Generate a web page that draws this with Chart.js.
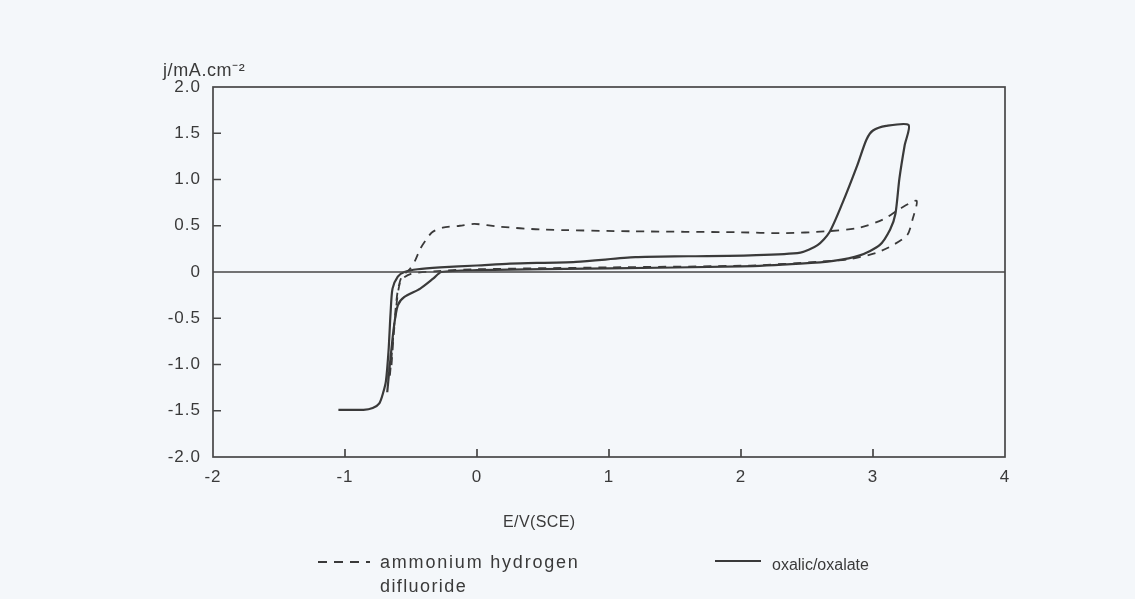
<!DOCTYPE html>
<html>
<head>
<meta charset="utf-8">
<script src="https://cdn.jsdelivr.net/npm/chart.js@4.4.0/dist/chart.umd.min.js"></script>
<style>
  html, body { margin: 0; padding: 0; background: #f4f7fa; }
  #wrap { position: relative; width: 1135px; height: 599px; font-family: "Liberation Sans", Arial, sans-serif; color: #3a3a3a; }
  #cv { position: absolute; left: 0; top: 0; }
  .txt { position: absolute; font-size: 17px; line-height: 22px; white-space: nowrap; }
  .sample { position: absolute; }
</style>
</head>
<body>
<div id="wrap">
  <canvas id="cv" width="1135" height="599"></canvas>
  <div class="txt" style="left:163px; top:59px; font-size:18px; letter-spacing:0.6px;">j/mA.cm⁻²</div>
  <div class="txt" style="left:503px; top:511px; font-size:16px; letter-spacing:0.4px;">E/V(SCE)</div>
  <svg class="sample" style="left:316px; top:558px;" width="56" height="8"><line x1="2" y1="4" x2="54" y2="4" stroke="#3a3a3a" stroke-width="2" stroke-dasharray="9,7"/></svg>
  <div class="txt" style="left:380px; top:551px; font-size:18px; letter-spacing:1.8px;">ammonium hydrogen</div>
  <div class="txt" style="left:380px; top:575px; font-size:18px; letter-spacing:1.4px;">difluoride</div>
  <svg class="sample" style="left:713px; top:557px;" width="50" height="8"><line x1="2" y1="4" x2="48" y2="4" stroke="#3a3a3a" stroke-width="2.2"/></svg>
  <div class="txt" style="left:772px; top:554px; font-size:16px;">oxalic/oxalate</div>
</div>
<script>
// cyclic voltammograms, potential E (V vs SCE) against current density j (mA/cm2)
const oxalateE = [-1.05, -0.86, -0.79, -0.74, -0.71, -0.69, -0.67, -0.655, -0.64, -0.60, -0.55, -0.45, -0.28, 0.0, 0.25, 0.75, 1.2, 1.6, 2.07, 2.45, 2.58, 2.67, 2.77, 2.88, 2.95, 3.0, 3.1, 3.27,
                  3.24, 3.2, 3.17, 3.13, 3.05, 2.9, 2.7, 2.45, 2.0, 1.0, 0.0, -0.27, -0.33, -0.43, -0.55, -0.6, -0.63, -0.66, -0.68];
const oxalateJ = [-1.49, -1.49, -1.47, -1.42, -1.30, -1.18, -0.85, -0.45, -0.18, -0.05, 0.0, 0.03, 0.05, 0.07, 0.09, 0.11, 0.16, 0.17, 0.18, 0.21, 0.29, 0.43, 0.75, 1.15, 1.43, 1.53, 1.58, 1.59,
                  1.37, 1.01, 0.63, 0.46, 0.29, 0.18, 0.12, 0.09, 0.06, 0.04, 0.02, 0.0, -0.07, -0.18, -0.27, -0.36, -0.6, -1.0, -1.3];

const fluorideE = [-0.66, -0.64, -0.62, -0.60, -0.57, -0.51, -0.47, -0.43, -0.39, -0.34, -0.26, -0.13, -0.02, 0.17, 0.48, 1.18, 1.97, 2.32, 2.65, 2.9, 3.08, 3.2, 3.33,
                   3.30, 3.26, 3.15, 3.03, 2.83, 2.58, 2.07, 1.0, 0.0, -0.3, -0.5, -0.58, -0.62, -0.65];
const fluorideJ = [-1.12, -0.8, -0.45, -0.2, -0.05, 0.03, 0.12, 0.25, 0.34, 0.43, 0.48, 0.50, 0.52, 0.49, 0.46, 0.44, 0.43, 0.42, 0.44, 0.48, 0.57, 0.68, 0.77,
                   0.57, 0.40, 0.29, 0.21, 0.14, 0.11, 0.07, 0.05, 0.03, 0.01, -0.02, -0.1, -0.5, -1.05];

const xTicks = [-2, -1, 0, 1, 2, 3, 4];
const yTicks = [-2, -1.5, -1, -0.5, 0, 0.5, 1, 1.5, 2];

const ink = '#3a3a3a';
const toPoints = (xs, ys) => xs.map((x, i) => ({ x: x, y: ys[i] }));

// frame, zero line and inward tick marks
const framePlugin = {
  id: 'frame',
  beforeDraw(chart) {
    chart.ctx.letterSpacing = '1px';
  },
  afterDatasetsDraw(chart) {
    const { ctx, chartArea: a, scales: { x, y } } = chart;
    ctx.save();
    ctx.strokeStyle = '#474747';
    ctx.lineWidth = 1.7;
    ctx.strokeRect(a.left, a.top, a.right - a.left, a.bottom - a.top);
    const y0 = y.getPixelForValue(0);
    ctx.beginPath();
    ctx.moveTo(a.left, y0);
    ctx.lineTo(a.right, y0);
    yTicks.forEach(v => {
      if (v === 0 || v === 2 || v === -2) return;
      const py = y.getPixelForValue(v);
      ctx.moveTo(a.left, py);
      ctx.lineTo(a.left + 8, py);
    });
    xTicks.forEach(v => {
      if (v === -2 || v === 4) return;
      const px = x.getPixelForValue(v);
      ctx.moveTo(px, a.bottom);
      ctx.lineTo(px, a.bottom - 8);
    });
    ctx.stroke();
    ctx.restore();
  }
};

const tickFont = { family: '"Liberation Sans", Arial, sans-serif', size: 17 };

new Chart(document.getElementById('cv'), {
  type: 'scatter',
  data: {
    datasets: [
      {
        label: 'ammonium hydrogen difluoride',
        data: toPoints(fluorideE, fluorideJ),
        showLine: true,
        borderColor: ink,
        borderWidth: 1.8,
        borderDash: [8, 7],
        pointRadius: 0,
        tension: 0.25
      },
      {
        label: 'oxalic/oxalate',
        data: toPoints(oxalateE, oxalateJ),
        showLine: true,
        borderColor: ink,
        borderWidth: 2.2,
        pointRadius: 0,
        tension: 0.25
      }
    ]
  },
  options: {
    responsive: false,
    animation: false,
    layout: { padding: { top: 87, right: 130, left: 0, bottom: 0 } },
    plugins: { legend: { display: false }, tooltip: { enabled: false } },
    scales: {
      x: {
        type: 'linear',
        min: -2,
        max: 4,
        afterBuildTicks: s => { s.ticks = xTicks.map(v => ({ value: v })); },
        afterFit: s => { s.height = 142; },
        grid: { display: false, drawTicks: false },
        border: { display: false },
        ticks: { color: ink, font: tickFont, padding: 10, maxRotation: 0 }
      },
      y: {
        type: 'linear',
        min: -2,
        max: 2,
        afterBuildTicks: s => { s.ticks = yTicks.map(v => ({ value: v })); },
        afterFit: s => { s.width = 213; },
        grid: { display: false, drawTicks: false },
        border: { display: false },
        ticks: {
          color: ink,
          font: tickFont,
          padding: 12,
          callback: v => (v === 0 ? '0' : v.toFixed(1))
        }
      }
    }
  },
  plugins: [framePlugin]
});
</script>
</body>
</html>
